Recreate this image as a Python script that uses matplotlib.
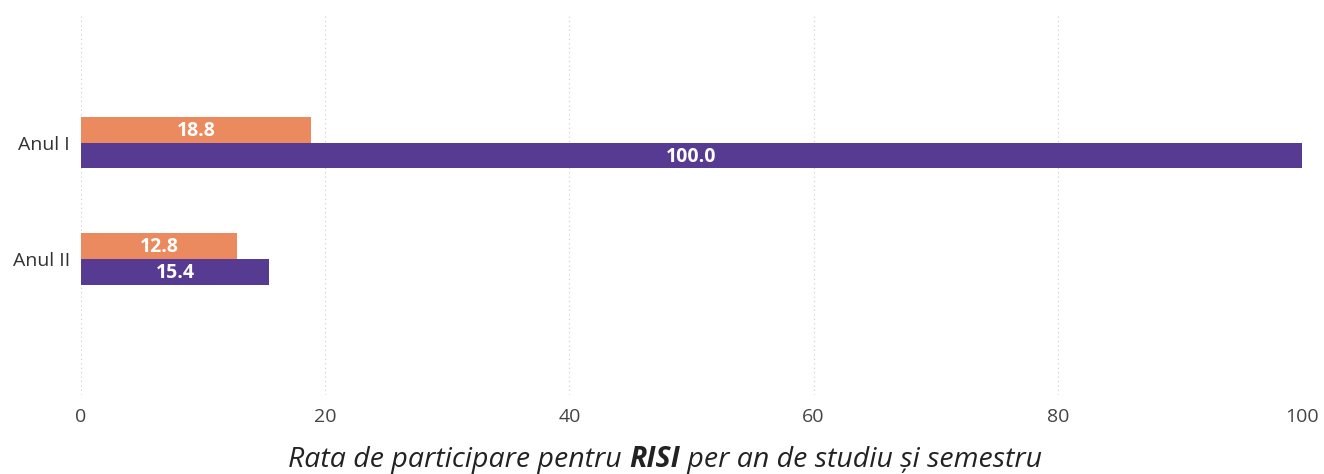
import matplotlib
matplotlib.use("Agg")
import matplotlib.pyplot as plt
import numpy as np

categories = ["Anul I", "Anul II"]
sem1 = [18.8, 12.8]
sem2 = [100.0, 15.4]
xticks = [0, 20, 40, 60, 80, 100]

c_orange = "#EB8A5E"
c_purple = "#573A91"

plt.rcParams['font.family'] = ['Open Sans', 'DejaVu Sans']

fig = plt.figure(figsize=(13.24, 4.74), dpi=100)
ax = fig.add_axes([81/1324, 1-395/474, (1302-81)/1324, (395-15)/474])

y = np.arange(len(categories))
h = 0.22
b1 = ax.barh(y - h/2, sem1, height=h, color=c_orange)
b2 = ax.barh(y + h/2, sem2, height=h, color=c_purple)

for bars, vals in ((b1, sem1), (b2, sem2)):
    for rect, v in zip(bars, vals):
        ax.text(rect.get_x() + rect.get_width()/2, rect.get_y() + rect.get_height()/2 + 0.01,
                f"{v:.1f}", ha="center", va="center", color="white",
                fontsize=14, fontweight="bold")

ax.set_xlim(0, 100)
ax.set_ylim(2.17, -1.10)
ax.set_yticks(y)
ax.set_yticklabels(categories, fontsize=14, color="#333333")
ax.set_xticks(xticks)
ax.set_xticklabels([str(t) for t in xticks], fontsize=14, color="#444444")
ax.tick_params(axis="both", length=0)
ax.tick_params(axis="x", pad=9)
ax.tick_params(axis="y", pad=8)
ax.grid(axis="x", linestyle=(0, (1, 3)), color="#cccccc", linewidth=0.8)
ax.set_axisbelow(True)
for s in ax.spines.values():
    s.set_visible(False)

# Title with bold part
fig.canvas.draw()
renderer = fig.canvas.get_renderer()
parts = [("Rata de participare pentru ", "normal"), ("RISI", "bold"), (" per an de studiu și semestru", "normal")]
fs = 20.5
texts = []
for s, w in parts:
    t = fig.text(0, 0, s, fontsize=fs, style="italic", fontweight=w, color="#222222",
                 ha="left", va="baseline")
    texts.append(t)
widths = [t.get_window_extent(renderer).width for t in texts]
total = sum(widths)
cx = (287 + 1043) / 2
x0 = cx - total / 2
yy = 1 - 467/474
for t, w in zip(texts, widths):
    t.set_position((x0/1324, yy))
    x0 += w

fig.savefig("out.png", dpi=100)
